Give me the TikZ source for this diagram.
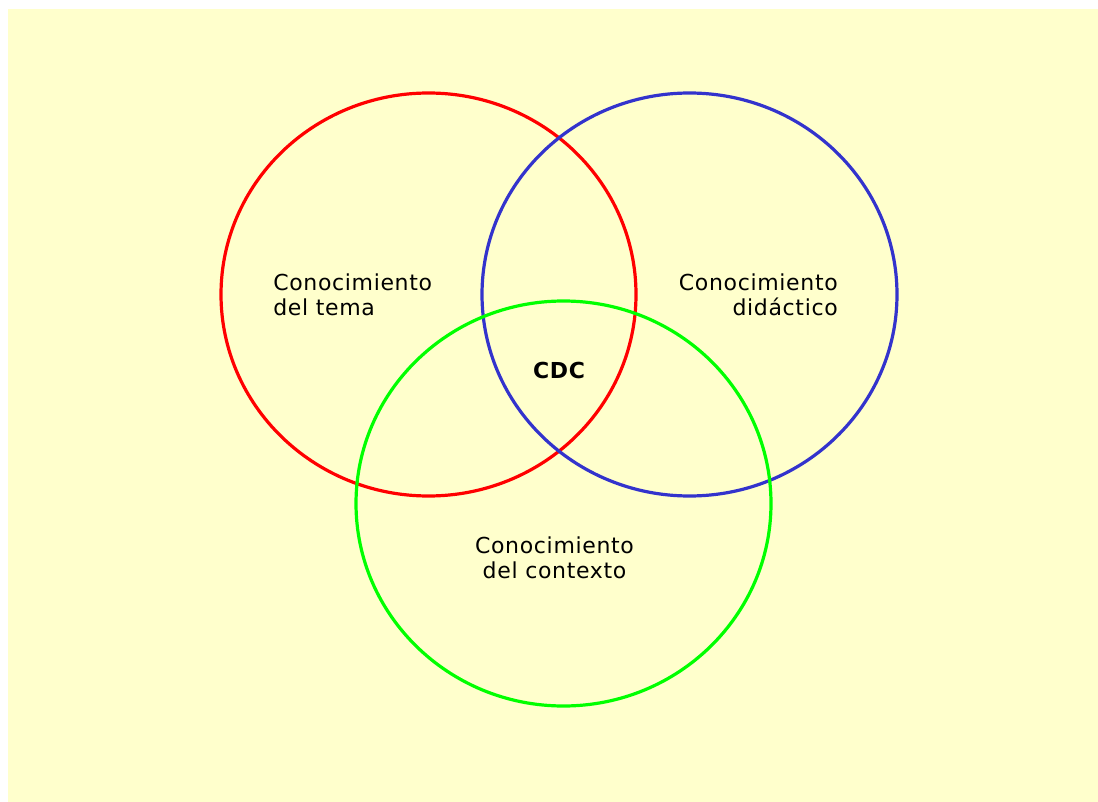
\documentclass[tikz,border=0pt]{standalone}
\usepackage{fontspec}
\setmainfont{DejaVu Sans}[LetterSpace=3]
\usepackage{tikz}

\definecolor{fondo}{RGB}{255,255,204}
\definecolor{rojo}{RGB}{255,0,0}
\definecolor{azul}{RGB}{51,51,204}
\definecolor{verde}{RGB}{0,255,0}

\tikzset{
	conjunto/.style={line width=2.4pt},
	etiqueta/.style={inner sep=0pt, font=\fontsize{16.5}{18.75}\selectfont}
}

\begin{document}
\begin{tikzpicture}[x=0.75pt, y=-0.75pt]
		% Fondo
		\useasboundingbox (0, 0) rectangle (1098, 802);
		\fill[fondo] (8, 9.5) rectangle (1098, 802);

		% Circulos
		\draw[conjunto, rojo] (428.5, 294.5) ellipse (207.5 and 201.5);
		\draw[conjunto, azul] (689.5, 294.5) ellipse (207.5 and 201.5);
		\draw[conjunto, verde] (563.5, 503.5) ellipse (207.5 and 202.5);

		% Textos
		\node[etiqueta, anchor=base west, align=left] (tema) at (273, 315) {Conocimiento\\del tema};
		\node[etiqueta, anchor=base east, align=right] (didactico) at (838, 315) {Conocimiento\\didáctico};
		\node[etiqueta, anchor=base, align=center] (contexto) at (554.5, 578) {Conocimiento\\del contexto};
		\node[etiqueta, anchor=base, font=\fontsize{16.5}{18.75}\selectfont\bfseries] (cdc) at (559, 378) {CDC};
	\end{tikzpicture}
\end{document}
